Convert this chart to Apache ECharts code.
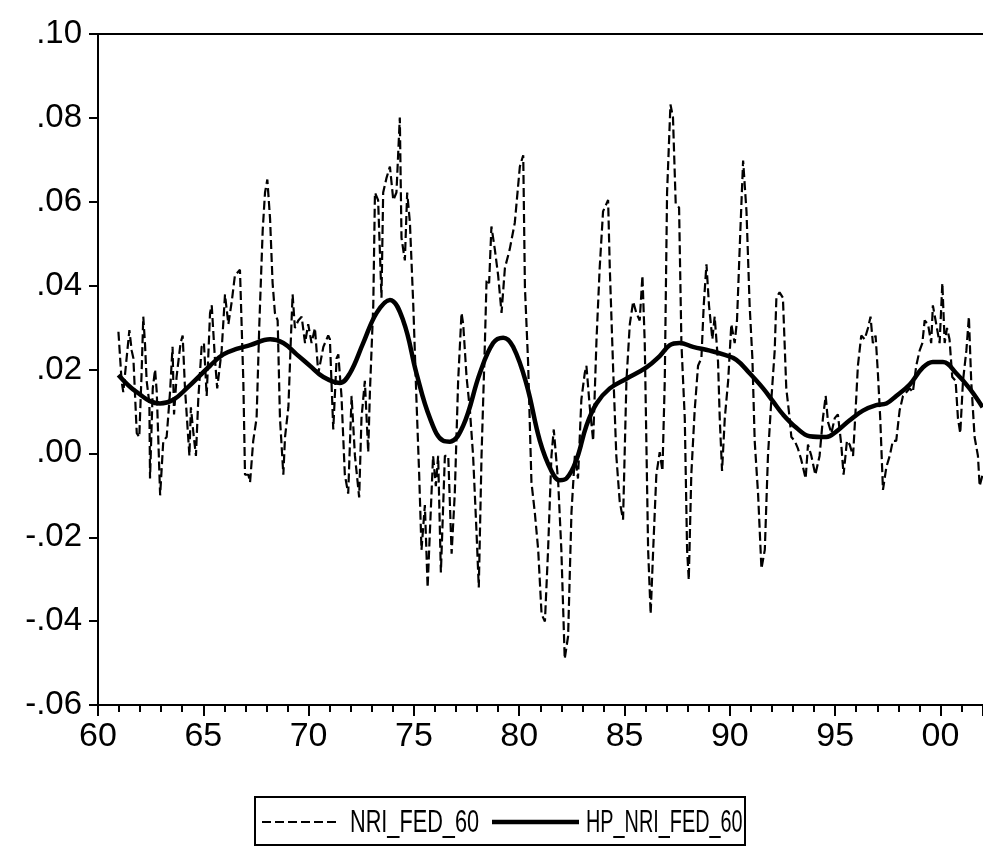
<!DOCTYPE html>
<html>
<head>
<meta charset="utf-8">
<script src="https://cdn.jsdelivr.net/npm/echarts@6/dist/echarts.min.js"></script>
<style>
html,body{margin:0;padding:0;background:#fff;}
#chart{width:983px;height:856px;}
</style>
</head>
<body>
<div id="chart"></div>
<script>
const seriesNames = ['NRI_FED_60', 'HP_NRI_FED_60'];

const nriYears = [
1960.97,1961.12,1961.20,1961.49,1961.60,1961.68,1961.84,1961.96,1962.07,1962.15,1962.23,1962.31,1962.44,1962.47,1962.60,1962.71,1962.79,1962.95,1963.10,1963.26,1963.42,1963.54,1963.61,1963.73,1963.92,1964.02,1964.13,1964.34,1964.41,1964.53,1964.65,1964.76,1964.92,1965.03,1965.16,1965.32,1965.40,1965.55,1965.66,1965.87,1966.03,1966.19,1966.35,1966.50,1966.74,1966.90,1966.98,1967.14,1967.22,1967.37,1967.53,1967.66,1967.82,1967.93,1968.04,1968.17,1968.29,1968.40,1968.53,1968.64,1968.80,1968.88,1969.04,1969.15,1969.24,1969.35,1969.51,1969.67,1969.83,1969.98,1970.14,1970.30,1970.46,1970.70,1970.93,
1971.01,1971.17,1971.33,1971.41,1971.56,1971.72,1971.88,1972.04,1972.20,1972.40,1972.51,1972.67,1972.83,1972.91,1973.07,1973.15,1973.30,1973.46,1973.54,1973.70,1973.86,1974.02,1974.17,1974.33,1974.41,1974.57,1974.68,1974.81,1974.97,1975.12,1975.25,1975.36,1975.52,1975.65,1975.76,1975.91,1976.04,1976.15,1976.28,1976.47,1976.63,1976.79,1976.94,1977.10,1977.26,1977.34,1977.50,1977.66,1977.81,1977.97,1978.08,1978.21,1978.37,1978.45,1978.57,1978.68,1978.84,1979.00,1979.16,1979.32,1979.55,1979.79,1980.03,1980.19,1980.27,1980.42,1980.58,1980.74,1980.90,1981.06,1981.22,1981.37,1981.53,
1981.64,1981.85,1982.00,1982.16,1982.32,1982.48,1982.64,1982.79,1982.95,1983.11,1983.19,1983.35,1983.51,1983.67,1983.82,1983.98,1984.14,1984.22,1984.30,1984.46,1984.61,1984.77,1984.93,1985.09,1985.25,1985.41,1985.56,1985.72,1985.85,1985.96,1986.12,1986.24,1986.36,1986.51,1986.67,1986.80,1986.91,1987.02,1987.18,1987.30,1987.43,1987.59,1987.70,1987.86,1987.97,1988.05,1988.17,1988.33,1988.49,1988.65,1988.76,1988.89,1989.01,1989.17,1989.28,1989.44,1989.52,1989.63,1989.76,1989.92,1990.07,1990.23,1990.34,1990.50,1990.63,1990.79,1990.94,1991.07,1991.18,1991.34,1991.50,1991.66,1991.81,1991.97,1992.13,
1992.21,1992.36,1992.52,1992.60,1992.68,1992.84,1992.92,1993.08,1993.23,1993.39,1993.60,1993.71,1993.87,1994.06,1994.26,1994.42,1994.55,1994.66,1994.82,1994.98,1995.13,1995.29,1995.40,1995.56,1995.69,1995.85,1995.97,1996.08,1996.24,1996.40,1996.56,1996.68,1996.79,1996.92,1997.03,1997.14,1997.27,1997.43,1997.59,1997.74,1997.90,1998.06,1998.22,1998.38,1998.54,1998.69,1998.85,1999.01,1999.14,1999.25,1999.41,1999.56,1999.64,1999.80,1999.96,2000.09,2000.20,2000.31,2000.43,2000.56,2000.72,2000.83,2000.94,2001.07,2001.23,2001.35,2001.46,2001.62,2001.78,2001.86,2002.00
];

const nriValues = [
0.0290,0.0173,0.0146,0.0294,0.0245,0.0227,0.0048,0.0039,0.0191,0.0326,0.0263,0.0173,0.0119,-0.0060,0.0155,0.0200,0.0146,-0.0100,0.0030,0.0039,0.0146,0.0254,0.0093,0.0182,0.0263,0.0281,0.0155,-0.0006,0.0110,0.0048,-0.0006,0.0128,0.0254,0.0263,0.0137,0.0335,0.0353,0.0227,0.0155,0.0245,0.0379,0.0308,0.0362,0.0424,0.0438,0.0173,-0.0051,-0.0051,-0.0069,0.0030,0.0084,0.0308,0.0532,0.0622,0.0653,0.0559,0.0406,0.0335,0.0317,0.0084,-0.0051,0.0039,0.0110,0.0263,0.0379,0.0299,0.0317,0.0326,0.0263,0.0308,0.0263,0.0299,0.0191,0.0254,0.0281,
0.0272,0.0057,0.0227,0.0236,0.0137,-0.0051,-0.0096,0.0137,-0.0006,-0.0105,0.0084,0.0173,0.0003,0.0146,0.0353,0.0622,0.0604,0.0371,0.0622,0.0657,0.0684,0.0604,0.0622,0.0801,0.0514,0.0460,0.0622,0.0550,0.0353,0.0128,-0.0051,-0.0230,-0.0123,-0.0320,-0.0185,-0.0006,-0.0078,-0.0006,-0.0284,-0.0006,-0.0006,-0.0239,-0.0096,0.0173,0.0335,0.0308,0.0182,0.0102,-0.0006,-0.0185,-0.0320,-0.0006,0.0263,0.0415,0.0406,0.0541,0.0487,0.0424,0.0335,0.0442,0.0487,0.0550,0.0684,0.0711,0.0397,0.0218,-0.0069,-0.0141,-0.0230,-0.0383,-0.0401,-0.0230,-0.0006,
0.0057,-0.0069,-0.0230,-0.0490,-0.0436,-0.0141,-0.0006,-0.0060,0.0128,0.0191,0.0209,0.0110,0.0030,0.0272,0.0442,0.0577,0.0595,0.0604,0.0442,0.0200,-0.0006,-0.0114,-0.0158,0.0173,0.0308,0.0362,0.0335,0.0317,0.0424,0.0263,-0.0230,-0.0383,-0.0230,-0.0051,0.0003,-0.0042,0.0173,0.0622,0.0832,0.0801,0.0595,0.0586,0.0263,0.0084,-0.0230,-0.0302,-0.0051,0.0102,0.0209,0.0227,0.0353,0.0451,0.0353,0.0272,0.0326,0.0218,0.0084,-0.0042,0.0084,0.0173,0.0308,0.0263,0.0317,0.0532,0.0698,0.0577,0.0353,0.0227,0.0030,-0.0096,-0.0275,-0.0230,-0.0006,0.0128,0.0245,
0.0371,0.0384,0.0371,0.0263,0.0155,0.0084,0.0039,0.0030,0.0012,-0.0015,-0.0060,0.0021,-0.0006,-0.0051,-0.0006,0.0084,0.0137,0.0075,0.0048,0.0084,0.0093,0.0021,-0.0051,0.0030,0.0021,-0.0006,0.0102,0.0209,0.0281,0.0272,0.0299,0.0326,0.0263,0.0281,0.0191,0.0084,-0.0087,-0.0033,-0.0006,0.0030,0.0030,0.0102,0.0137,0.0146,0.0155,0.0146,0.0209,0.0245,0.0263,0.0317,0.0308,0.0263,0.0353,0.0308,0.0263,0.0406,0.0263,0.0299,0.0272,0.0182,0.0173,0.0084,0.0048,0.0173,0.0245,0.0326,0.0173,0.0039,-0.0006,-0.0078,-0.0051
];

const hpYears = [
1960.97,1961.84,1962.94,1963.58,1964.21,1965.32,1965.95,1966.58,1967.22,1968.17,1968.80,1969.43,1970.06,1970.70,
1971.48,1971.96,1972.59,1973.23,1973.86,1974.49,1975.12,1975.76,1976.39,1976.71,1977.34,1978.13,1978.76,1979.24,1979.71,1980.35,1980.98,1981.53,
1981.92,1982.24,1982.72,1983.19,1983.67,1984.30,1985.09,1986.04,1986.67,1987.15,1987.62,1988.25,1989.05,1989.68,1990.31,1990.94,1991.58,1992.05,
1992.52,1993.16,1993.79,1994.58,1995.05,1995.69,1996.32,1996.95,1997.43,1997.90,1998.54,1999.17,1999.64,2000.12,2000.75,2001.38,2002.00
];

const hpValues = [
0.0187,0.0146,0.0119,0.0128,0.0155,0.0209,0.0236,0.0249,0.0258,0.0272,0.0263,0.0236,0.0209,0.0182,
0.0168,0.0191,0.0263,0.0335,0.0366,0.0317,0.0191,0.0084,0.0030,0.0028,0.0066,0.0191,0.0263,0.0276,0.0254,0.0164,0.0030,-0.0042,
-0.0064,-0.0060,-0.0015,0.0066,0.0119,0.0155,0.0178,0.0205,0.0232,0.0258,0.0263,0.0254,0.0245,0.0236,0.0223,0.0191,0.0155,0.0124,
0.0093,0.0061,0.0041,0.0039,0.0052,0.0079,0.0102,0.0115,0.0119,0.0137,0.0164,0.0205,0.0218,0.0218,0.0191,0.0155,0.0110
];

const yTicks = [-0.06, 0.10, 0.02]; // min, max, step
const xTicks = [1960, 2002.02, 5];  // min, max, step

const FONT = '"Liberation Sans", Arial, sans-serif';

function yLabel(v) {
  const r = Math.round(v * 100) / 100;
  if (Math.abs(r) < 1e-9) return '.00';
  const s = Math.abs(r).toFixed(2).replace(/^0/, '');
  return (r < 0 ? '-' : '') + s;
}
function xLabel(v) {
  const y = Math.round(v);
  return String(y % 100).padStart(2, '0');
}

// Legend box drawn as graphic (condensed text like the original export)
const LEG_Y = 822;
const LEG_FONT = '31px "Liberation Sans", Arial, sans-serif';
const legendGraphic = [
  {type: 'rect', shape: {x: 255, y: 797, width: 490, height: 48},
   style: {fill: '#fff', stroke: '#000', lineWidth: 2}, z: 10},
  {type: 'line', shape: {x1: 262, y1: LEG_Y, x2: 340, y2: LEG_Y},
   style: {stroke: '#000', lineWidth: 2.2, lineDash: [9, 4]}, z: 11},
  {type: 'text', x: 350, y: LEG_Y + 1, scaleX: 0.70, z: 11,
   style: {text: seriesNames[0], font: LEG_FONT, fill: '#000', verticalAlign: 'middle', align: 'left'}},
  {type: 'line', shape: {x1: 492, y1: LEG_Y, x2: 579, y2: LEG_Y},
   style: {stroke: '#000', lineWidth: 4.5}, z: 11},
  {type: 'text', x: 586, y: LEG_Y + 1, scaleX: 0.64, z: 11,
   style: {text: seriesNames[1], font: LEG_FONT, fill: '#000', verticalAlign: 'middle', align: 'left'}}
];

const chart = echarts.init(document.getElementById('chart'), null, {renderer: 'canvas'});
chart.setOption({
  animation: false,
  backgroundColor: '#fff',
  grid: {left: 98, top: 34, right: 0, bottom: 151, containLabel: false},
  legend: {show: false, data: seriesNames},
  graphic: legendGraphic,
  xAxis: [{
    type: 'value', min: xTicks[0], max: xTicks[1], interval: xTicks[2],
    position: 'bottom',
    axisLine: {show: true, onZero: false, lineStyle: {color: '#000', width: 2}},
    axisTick: {show: true, inside: false, length: 11, lineStyle: {color: '#000', width: 2}},
    minorTick: {show: true, splitNumber: 5, length: 7, lineStyle: {color: '#000', width: 2}},
    axisLabel: {formatter: xLabel, fontFamily: FONT, fontSize: 34, color: '#000', margin: 15, showMaxLabel: false},
    splitLine: {show: false}, minorSplitLine: {show: false}
  }, {
    type: 'value', min: xTicks[0], max: xTicks[1], position: 'top',
    axisLine: {show: true, onZero: false, lineStyle: {color: '#000', width: 2}},
    axisTick: {show: false}, axisLabel: {show: false}, splitLine: {show: false}
  }],
  yAxis: {
    type: 'value', min: yTicks[0], max: yTicks[1], interval: yTicks[2],
    axisLine: {show: true, onZero: false, lineStyle: {color: '#000', width: 2}},
    axisTick: {show: true, inside: false, length: 9, lineStyle: {color: '#000', width: 2}},
    axisLabel: {formatter: yLabel, fontFamily: FONT, fontSize: 33, color: '#000', margin: 16},
    splitLine: {show: false}
  },
  series: [{
    name: seriesNames[0], type: 'line', xAxisIndex: 0,
    data: nriYears.map((y, i) => [y, nriValues[i]]),
    symbol: 'none', smooth: false,
    lineStyle: {color: '#000', width: 2.2, type: [9, 4]},
    itemStyle: {color: '#000'}
  }, {
    name: seriesNames[1], type: 'line', xAxisIndex: 0,
    data: hpYears.map((y, i) => [y, hpValues[i]]),
    symbol: 'none', smooth: 0.4,
    lineStyle: {color: '#000', width: 4.5},
    itemStyle: {color: '#000'}
  }]
});
</script>
</body>
</html>
